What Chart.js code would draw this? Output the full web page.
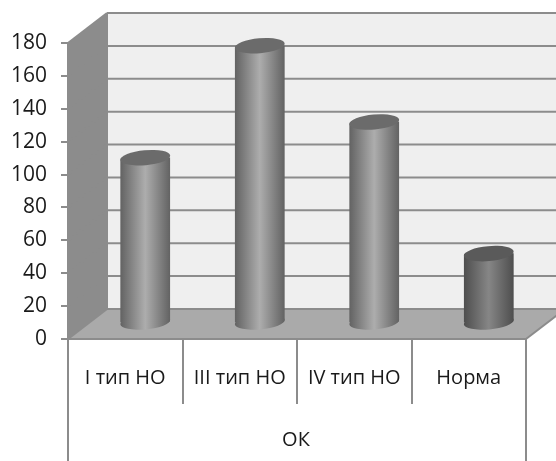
<!DOCTYPE html>
<html><head><meta charset="utf-8">
<style>html,body{margin:0;padding:0;background:#fff}#w{width:556px;height:461px;overflow:hidden}canvas{filter:blur(0.45px)}</style>
<script src="https://cdn.jsdelivr.net/npm/chart.js@4"></script>
</head><body><div id="w"><canvas id="c" width="556" height="461"></canvas></div>
<script>
const categories = ['I тип НО','III тип НО','IV тип НО','Норма'];
const groupLabel = 'ОК';
const seriesValues = [100.5,168.6,122.2,42.2];
const edgeColors = ['#626262','#626262','#626262','#4e4e4e'];
const midColors = ['#adadad','#adadad','#adadad','#868686'];
const capColors = ['#6b6b6b','#6b6b6b','#6b6b6b','#5a5a5a'];
const yMax = 180, yStep = 20;
const depthX = 39, depthY = 30, barShiftX = 20, barShiftY = -16;
const cylW = 50, capRy = 7.5, capTilt = -0.09;
const lineColor = '#8c8c8c', textColor = '#1a1a1a';

function grad(ctx, cx, i){
  if(!Number.isFinite(cx)) return edgeColors[i];
  const g = ctx.createLinearGradient(cx-cylW/2,0,cx+cylW/2,0);
  g.addColorStop(0,edgeColors[i]); g.addColorStop(0.5,midColors[i]); g.addColorStop(1,edgeColors[i]);
  return g;
}
function line(ctx,a,b,c,d){ctx.beginPath();ctx.moveTo(a,b);ctx.lineTo(c,d);ctx.stroke();}
const scene = {
  id:'scene',
  beforeDraw(chart){
    const {ctx,chartArea:a,scales:{y}}=chart;
    ctx.save();
    ctx.fillStyle='#efefef';ctx.fillRect(a.left+depthX,a.top-depthY,a.width,a.height);
    ctx.fillStyle='#8c8c8c';ctx.beginPath();ctx.moveTo(a.left,a.top);ctx.lineTo(a.left+depthX,a.top-depthY);ctx.lineTo(a.left+depthX,a.bottom-depthY);ctx.lineTo(a.left,a.bottom);ctx.closePath();ctx.fill();
    ctx.fillStyle='#aaaaaa';ctx.beginPath();ctx.moveTo(a.left,a.bottom);ctx.lineTo(a.left+depthX,a.bottom-depthY);ctx.lineTo(a.right+depthX,a.bottom-depthY);ctx.lineTo(a.right,a.bottom);ctx.closePath();ctx.fill();
    ctx.strokeStyle=lineColor;ctx.lineWidth=2;
    y.ticks.forEach(t=>{
      const p=y.getPixelForValue(t.value);
      line(ctx,a.left,p,a.left+depthX,p-depthY);
      line(ctx,a.left+depthX,p-depthY,a.right+depthX,p-depthY);
    });
    line(ctx,a.left+depthX,a.top-depthY,a.left+depthX,a.bottom-depthY);
    line(ctx,a.right,a.bottom,a.right+depthX,a.bottom-depthY);
    line(ctx,a.left,a.bottom,a.left,chart.height);
    line(ctx,a.right,a.bottom,a.right,chart.height);
    ctx.fillStyle=textColor;ctx.font='20px "Open Sans"';ctx.textAlign='center';ctx.textBaseline='middle';
    ctx.fillText(groupLabel,(a.left+a.right)/2-1,440);
    ctx.restore();
  },
  beforeDatasetsDraw(chart){
    const {ctx}=chart, meta=chart.getDatasetMeta(0);
    ctx.save();ctx.translate(barShiftX,barShiftY);
    meta.data.forEach((b,i)=>{
      ctx.fillStyle=grad(ctx,b.x,i);
      ctx.beginPath();ctx.ellipse(b.x,b.base,cylW/2,capRy,capTilt,0,Math.PI*2);ctx.fill();
    });
  },
  beforeDatasetDraw(chart){
    const {ctx}=chart, meta=chart.getDatasetMeta(0);
    ctx.save();ctx.beginPath();
    const rx=cylW/2;
    meta.data.forEach(b=>{
      ctx.moveTo(b.x-rx*Math.cos(capTilt),b.y-rx*Math.sin(capTilt));
      ctx.ellipse(b.x,b.y,rx,capRy,capTilt,Math.PI,Math.PI*2);
      ctx.ellipse(b.x,b.base,rx,capRy,capTilt,0,Math.PI);
      ctx.closePath();
    });
    ctx.clip();
  },
  afterDatasetDraw(chart){chart.ctx.restore();},
  afterDatasetsDraw(chart){
    const {ctx}=chart, meta=chart.getDatasetMeta(0);
    meta.data.forEach((b,i)=>{
      ctx.fillStyle=capColors[i];
      ctx.beginPath();ctx.ellipse(b.x,b.y,cylW/2,capRy,capTilt,0,Math.PI*2);ctx.fill();
    });
    ctx.restore();
  }
};
new Chart(document.getElementById('c'),{
  type:'bar',
  data:{labels:categories,datasets:[{data:seriesValues,barThickness:cylW,borderWidth:0,clip:false,
    backgroundColor(c){const x=c.chart.scales.x; return x?grad(c.chart.ctx,x.getPixelForValue(c.dataIndex),c.dataIndex):'#888';}}]},
  options:{responsive:false,animation:false,
    layout:{padding:{top:43,right:30,left:0,bottom:0}},
    plugins:{legend:{display:false},title:{display:false},tooltip:{enabled:false}},
    scales:{
      x:{offset:true,afterFit(s){s.height=122;},
        grid:{drawOnChartArea:false,tickLength:65,color:lineColor,lineWidth:2,offset:true},
        border:{color:lineColor,width:2},
        ticks:{font:{family:'"Open Sans"',size:20},color:textColor,padding:-38,maxRotation:0,autoSkip:false}},
      y:{min:0,max:yMax,afterFit(s){s.width=68;},
        grid:{drawOnChartArea:false,tickLength:7,color:lineColor,lineWidth:2},
        border:{color:lineColor,width:2},
        ticks:{stepSize:yStep,font:{family:'"Open Sans"',size:21},color:textColor,padding:14}}
    }},
  plugins:[scene]
});
</script></body></html>
